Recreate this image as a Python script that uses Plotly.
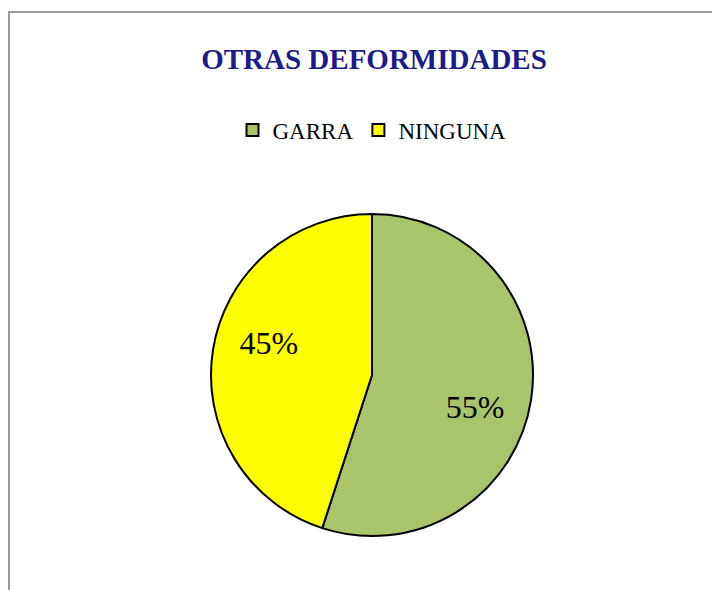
import plotly.graph_objects as go

labels = ["GARRA", "NINGUNA"]
values = [55, 45]
colors = ["#A9C46B", "#FFFF00"]

W, H = 720, 590
# the page body adds an 8px margin, so positions are shifted back by 8px
OFF = 8
pie_domain = dict(x=[(211 - OFF) / W, (533 - OFF) / W],
                  y=[(54 + OFF) / H, (376 + OFF) / H])

fig = go.Figure()
fig.add_trace(go.Pie(
    labels=labels,
    values=values,
    sort=False,
    direction="clockwise",
    rotation=0,
    marker=dict(colors=colors, line=dict(color="#000000", width=2)),
    textinfo="none",
    domain=pie_domain,
    hoverinfo="label+percent",
))

# transparent ring on top, only used to place the percent labels like the original
fig.add_trace(go.Pie(
    labels=labels,
    values=values,
    sort=False,
    direction="clockwise",
    rotation=8,
    hole=0.34,
    marker=dict(colors=["rgba(0,0,0,0)"] * len(values), line=dict(width=0)),
    textinfo="percent",
    textposition="inside",
    insidetextfont=dict(family="Liberation Serif", size=32, color="#000000"),
    domain=pie_domain,
    hoverinfo="skip",
    showlegend=False,
))

fig.update_layout(
    width=W,
    height=H,
    margin=dict(l=0, r=0, t=0, b=0),
    paper_bgcolor="white",
    title=dict(
        text="<b>OTRAS DEFORMIDADES</b>",
        x=(374 - OFF) / W, xanchor="center",
        y=1 - (59 - OFF) / H, yanchor="middle",
        font=dict(family="Liberation Serif", size=29, color="#1B1B8A"),
    ),
    legend=dict(
        orientation="h",
        x=(372 - OFF) / W, xanchor="center",
        y=1 - (130 - OFF) / H, yanchor="middle",
        font=dict(family="Liberation Serif", size=23, color="#000000"),
        itemwidth=30,
    ),
    shapes=[
        dict(type="line", xref="paper", yref="paper",
             x0=(8 - OFF) / W, x1=1.02, y0=1 - (12 - OFF) / H, y1=1 - (12 - OFF) / H,
             line=dict(color="#9A9A9A", width=2)),
        dict(type="line", xref="paper", yref="paper",
             x0=(9 - OFF) / W, x1=(9 - OFF) / W, y0=1 - (12 - OFF) / H, y1=-0.02,
             line=dict(color="#9A9A9A", width=2)),
    ],
)

fig.write_html("out.html")
